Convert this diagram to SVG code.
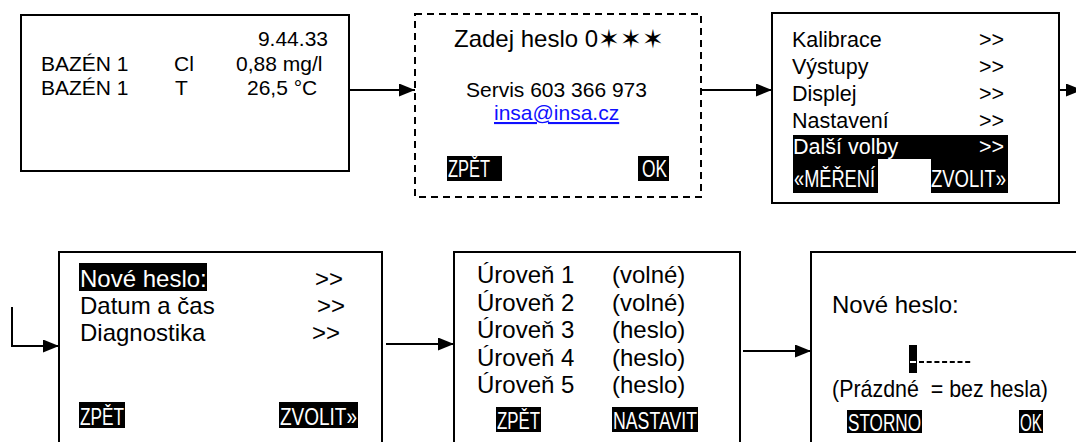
<svg xmlns="http://www.w3.org/2000/svg" width="1076" height="442" viewBox="0 0 1076 442">
<defs>
<style>
text{font-family:"Liberation Sans",Arial,sans-serif;fill:#000}
.box{fill:#fff;stroke:#000;stroke-width:2}
.dash{fill:#fff;stroke:#000;stroke-width:2;stroke-dasharray:7 5}
.t21{font-size:21px}
.t22{font-size:21.5px}
.t24{font-size:24px}
.btn{fill:#000}
.bt{font-size:23px;fill:#fff}
.w{fill:#fff}
.star{font-family:"DejaVu Sans",sans-serif;font-size:26px}
.conn{fill:none;stroke:#000;stroke-width:2}
</style>
<marker id="ah" viewBox="0 0 10 10" refX="10" refY="5" markerWidth="16" markerHeight="13" markerUnits="userSpaceOnUse" orient="auto" preserveAspectRatio="none">
<path d="M0,0 L10,5 L0,10 z" fill="#000"/>
</marker>
</defs>
<rect width="1076" height="442" fill="#fff"/>

<g id="connectors">
<line class="conn" x1="349" y1="90" x2="415" y2="90" marker-end="url(#ah)"/>
<line class="conn" x1="702" y1="90" x2="772" y2="90" marker-end="url(#ah)"/>
<line class="conn" x1="1059" y1="90" x2="1082" y2="90" marker-end="url(#ah)"/>
<polyline class="conn" points="12,307 12,346 59,346" marker-end="url(#ah)"/>
<line class="conn" x1="386" y1="344" x2="454" y2="344" marker-end="url(#ah)"/>
<line class="conn" x1="743" y1="351" x2="811" y2="351" marker-end="url(#ah)"/>
</g>

<g id="node-measure">
<rect class="box" x="21" y="15" width="328" height="156"/>
<text class="t21" x="328" y="46" text-anchor="end">9.44.33</text>
<text class="t21" x="41" y="71">BAZÉN 1</text>
<text class="t21" x="174" y="71">Cl</text>
<text class="t21" x="236" y="71">0,88 mg/l</text>
<text class="t21" x="41" y="95">BAZÉN 1</text>
<text class="t21" x="175" y="95">T</text>
<text class="t21" x="247" y="95">26,5 °C</text>
</g>

<g id="node-password">
<rect class="dash" x="415" y="14" width="286" height="183"/>
<text class="t24" x="454" y="47">Zadej heslo 0<tspan class="star" x="598" y="48">✶</tspan><tspan class="star" x="620" y="48">✶</tspan><tspan class="star" x="642" y="48">✶</tspan></text>
<text class="t21" x="466" y="97">Servis 603 366 973</text>
<text class="t21" x="494" y="120" style="fill:#1010ff" text-decoration="underline">insa@insa.cz</text>
<rect class="btn" x="447" y="156" width="55" height="25"/>
<text class="bt" x="448" y="177" textLength="42" lengthAdjust="spacingAndGlyphs">ZPĚT</text>
<rect class="btn" x="638" y="156" width="31" height="25"/>
<text class="bt" x="642" y="177" textLength="25" lengthAdjust="spacingAndGlyphs">OK</text>
</g>

<g id="node-menu">
<rect class="box" x="772" y="13" width="287" height="190"/>
<text class="t22" x="792" y="47">Kalibrace</text>
<text class="t22" x="979" y="47">&gt;&gt;</text>
<text class="t22" x="792" y="74">Výstupy</text>
<text class="t22" x="979" y="74">&gt;&gt;</text>
<text class="t22" x="792" y="101">Displej</text>
<text class="t22" x="979" y="101">&gt;&gt;</text>
<text class="t22" x="792" y="128">Nastavení</text>
<text class="t22" x="979" y="128">&gt;&gt;</text>
<rect class="btn" x="793" y="135" width="215" height="24"/>
<text class="t22 w" x="793" y="154">Další volby</text>
<text class="t22 w" x="979" y="154">&gt;&gt;</text>
<rect class="btn" x="793" y="159" width="85" height="34"/>
<rect class="btn" x="931" y="159" width="77" height="34"/>
<text class="bt" x="794" y="187" textLength="81" lengthAdjust="spacingAndGlyphs">«MĚŘENÍ</text>
<text class="bt" x="931" y="187" textLength="75" lengthAdjust="spacingAndGlyphs">ZVOLIT»</text>
</g>

<g id="node-more">
<rect class="box" x="59" y="252" width="323" height="200"/>
<rect class="btn" x="79" y="263" width="128" height="28"/>
<text class="t24 w" x="80" y="287">Nové heslo:</text>
<text class="t24" x="315" y="287">&gt;&gt;</text>
<text class="t24" x="80" y="314">Datum a čas</text>
<text class="t24" x="317" y="314">&gt;&gt;</text>
<text class="t24" x="80" y="341">Diagnostika</text>
<text class="t24" x="312" y="341">&gt;&gt;</text>
<rect class="btn" x="79" y="402" width="46" height="26"/>
<text class="bt" x="80" y="425" textLength="44" lengthAdjust="spacingAndGlyphs">ZPĚT</text>
<rect class="btn" x="279" y="402" width="79" height="26"/>
<text class="bt" x="280" y="425" textLength="77" lengthAdjust="spacingAndGlyphs">ZVOLIT»</text>
</g>

<g id="node-levels">
<rect class="box" x="454" y="252" width="286" height="200"/>
<text class="t24" x="477" y="283">Úroveň 1</text>
<text class="t24" x="612" y="283">(volné)</text>
<text class="t24" x="477" y="311">Úroveň 2</text>
<text class="t24" x="612" y="311">(volné)</text>
<text class="t24" x="477" y="338">Úroveň 3</text>
<text class="t24" x="612" y="338">(heslo)</text>
<text class="t24" x="477" y="366">Úroveň 4</text>
<text class="t24" x="612" y="366">(heslo)</text>
<text class="t24" x="477" y="393">Úroveň 5</text>
<text class="t24" x="612" y="393">(heslo)</text>
<rect class="btn" x="496" y="407" width="45" height="25"/>
<text class="bt" x="497" y="429" textLength="43" lengthAdjust="spacingAndGlyphs">ZPĚT</text>
<rect class="btn" x="612" y="407" width="86" height="25"/>
<text class="bt" x="613" y="429" textLength="84" lengthAdjust="spacingAndGlyphs">NASTAVIT</text>
</g>

<g id="node-newpass">
<rect class="box" x="811" y="252" width="280" height="200"/>
<text class="t24" x="832" y="313">Nové heslo:</text>
<rect class="btn" x="909" y="345" width="8" height="28"/>
<line x1="910" y1="362" x2="916" y2="362" stroke="#fff" stroke-width="2"/>
<line x1="919" y1="362" x2="972" y2="362" stroke="#000" stroke-width="2" stroke-dasharray="5 2.7"/>
<text class="t24" x="832" y="397" xml:space="preserve" textLength="216" lengthAdjust="spacingAndGlyphs">(Prázdné  = bez hesla)</text>
<rect class="btn" x="847" y="410" width="75" height="23"/>
<text class="bt" x="848" y="431" textLength="73" lengthAdjust="spacingAndGlyphs">STORNO</text>
<rect class="btn" x="1019" y="410" width="24" height="23"/>
<text class="bt" x="1020" y="431" textLength="22" lengthAdjust="spacingAndGlyphs">OK</text>
</g>
</svg>
